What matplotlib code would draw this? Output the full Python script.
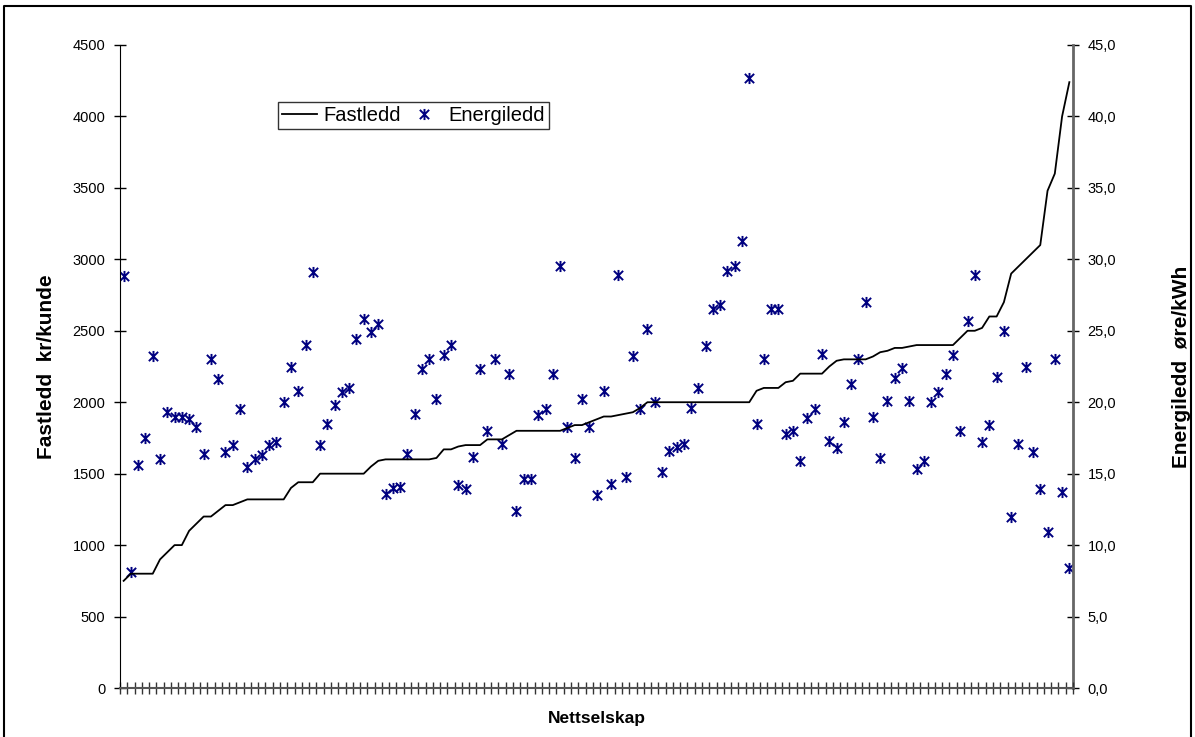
import matplotlib
matplotlib.use("Agg")
import matplotlib.pyplot as plt
from matplotlib.path import Path
from matplotlib.lines import Line2D
import numpy as np

plt.rcParams['font.family'] = ['Liberation Sans', 'DejaVu Sans']

fastledd = [750, 800, 800, 800, 800, 900, 950, 1000, 1000, 1100,
            1150, 1200, 1200, 1240, 1280, 1280, 1300, 1320, 1320, 1320,
            1320, 1320, 1320, 1400, 1440, 1440, 1440, 1500, 1500, 1500,
            1500, 1500, 1500, 1500, 1550, 1590, 1600, 1600, 1600, 1600,
            1600, 1600, 1600, 1610, 1670, 1670, 1690, 1700, 1700, 1700,
            1740, 1740, 1740, 1770, 1800, 1800, 1800, 1800, 1800, 1800,
            1800, 1820, 1840, 1840, 1860, 1880, 1900, 1900, 1910, 1920,
            1930, 1960, 2000, 2000, 2000, 2000, 2000, 2000, 2000, 2000,
            2000, 2000, 2000, 2000, 2000, 2000, 2000, 2080, 2100, 2100,
            2100, 2140, 2150, 2200, 2200, 2200, 2200, 2250, 2290, 2300,
            2300, 2300, 2300, 2320, 2350, 2360, 2380, 2380, 2390, 2400,
            2400, 2400, 2400, 2400, 2400, 2450, 2500, 2500, 2520, 2600,
            2600, 2700, 2900, 2950, 3000, 3050, 3100, 3480, 3600, 4000,
            4240]

energiledd = [28.8, 8.1, 15.6, 17.5, 23.2, 16.0, 19.3, 19.0, 19.0, 18.8,
              18.3, 16.4, 23.0, 21.6, 16.5, 17.0, 19.5, 15.5, 16.0, 16.3,
              17.0, 17.2, 20.0, 22.5, 20.8, 24.0, 29.1, 17.0, 18.5, 19.8,
              20.7, 21.0, 24.4, 25.8, 24.9, 25.5, 13.6, 14.0, 14.1, 16.4,
              19.2, 22.3, 23.0, 20.2, 23.3, 24.0, 14.2, 13.9, 16.2, 22.3,
              18.0, 23.0, 17.1, 22.0, 12.4, 14.6, 14.6, 19.1, 19.5, 22.0,
              29.5, 18.3, 16.1, 20.2, 18.3, 13.5, 20.8, 14.3, 28.9, 14.8,
              23.2, 19.5, 25.1, 20.0, 15.1, 16.6, 16.9, 17.1, 19.6, 21.0,
              23.9, 26.5, 26.8, 29.2, 29.5, 31.3, 42.7, 18.5, 23.0, 26.5,
              26.5, 17.8, 18.0, 15.9, 18.9, 19.5, 23.4, 17.3, 16.8, 18.6,
              21.3, 23.0, 27.0, 19.0, 16.1, 20.1, 21.7, 22.4, 20.1, 15.3,
              15.9, 20.0, 20.7, 22.0, 23.3, 18.0, 25.7, 28.9, 17.2, 18.4,
              21.8, 25.0, 12.0, 17.1, 22.5, 16.5, 13.9, 10.9, 23.0, 13.7,
              8.4]

left_ticks = [0, 500, 1000, 1500, 2000, 2500, 3000, 3500, 4000, 4500]
right_ticks = [0, 5, 10, 15, 20, 25, 30, 35, 40, 45]
right_labels = ["0,0", "5,0", "10,0", "15,0", "20,0", "25,0", "30,0", "35,0", "40,0", "45,0"]

n = len(fastledd)
x = np.arange(n)

# Excel-like star marker: X plus vertical bar
star = Path([(-1, -1), (1, 1), (-1, 1), (1, -1), (0, -1.2), (0, 1.2)],
            [Path.MOVETO, Path.LINETO, Path.MOVETO, Path.LINETO, Path.MOVETO, Path.LINETO])

fig = plt.figure(figsize=(11.95, 7.37), dpi=100)
ax = fig.add_axes([120/1195, (737-688)/737, (1073-120)/1195, (688-45)/737])
ax2 = ax.twinx()

ln, = ax.plot(x, fastledd, color='black', lw=1.3, label='Fastledd')
sc, = ax2.plot(x, energiledd, ls='none', marker=star, ms=8, mew=1.4,
               mec='#000080', mfc='none', label='Energiledd')

ax.set_xlim(-0.5, n - 0.5)
ax.set_ylim(0, 4500)
ax2.set_ylim(0, 45)
ax.set_yticks(left_ticks)
ax.set_yticklabels([str(v) for v in left_ticks])
ax2.set_yticks(right_ticks)
ax2.set_yticklabels(right_labels)
ax.set_xticks(np.arange(n + 1) - 0.5)
ax.set_xticklabels([])

for a in (ax, ax2):
    a.tick_params(axis='y', direction='inout', length=9, width=1, labelsize=10.5, pad=6)
    a.set_facecolor('none')
ax.tick_params(axis='x', direction='inout', length=8, width=1, color='#333333')
ax.set_zorder(ax2.get_zorder() + 1)

for a in (ax, ax2):
    a.spines['top'].set_visible(False)
ax.spines['left'].set_color('black')
ax.spines['bottom'].set_color('#555555')
ax.spines['bottom'].set_linewidth(1.5)
ax2.spines['right'].set_color('#666666')
ax2.spines['right'].set_linewidth(2)
ax2.spines['left'].set_visible(False)
ax2.spines['bottom'].set_visible(False)
ax.spines['right'].set_visible(False)

ax.set_ylabel('Fastledd  kr/kunde', fontsize=15, fontweight='bold', labelpad=12)
ax2.set_ylabel('Energiledd  øre/kWh', fontsize=15, fontweight='bold', labelpad=40)
ax.set_xlabel('Nettselskap', fontsize=12.5, fontweight='bold', labelpad=9)

leg = ax.legend(handles=[ln, sc], ncol=2, loc='upper left',
                bbox_to_anchor=((278-120)/953, (688-102)/643),
                fontsize=14.5, frameon=True, fancybox=False, edgecolor='black',
                borderpad=0.2, handlelength=1.75, columnspacing=0.3, handletextpad=0.3,
                borderaxespad=0)
leg.get_frame().set_linewidth(1)

# Figure border
fig.add_artist(Line2D([4/1195, 4/1195, 1191/1195, 1191/1195],
                      [0, 1 - 6/737, 1 - 6/737, 0],
                      transform=fig.transFigure, color='black', lw=1.5))

fig.savefig('out.png', dpi=100)
